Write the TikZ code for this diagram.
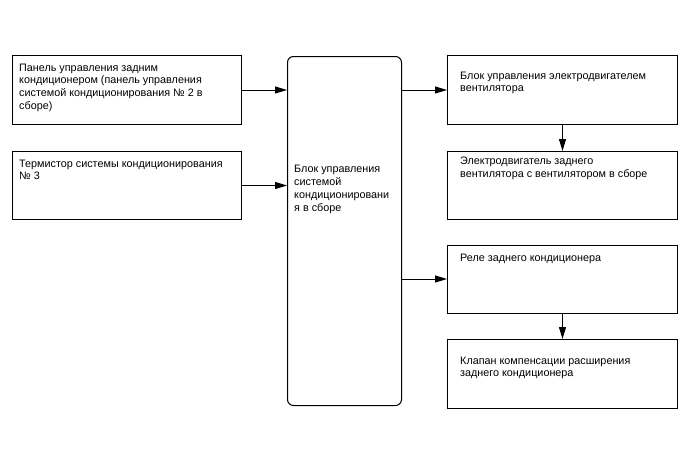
\documentclass[tikz,border=0pt]{standalone}
\usepackage{fontspec}
\setmainfont{Liberation Sans}
\usetikzlibrary{arrows.meta}
\newcommand{\lines}[1]{\begin{tabular}[t]{@{}l@{}}#1\end{tabular}}
\begin{document}
\begin{tikzpicture}[x=1pt,y=-1pt,
  box/.style={draw,line width=1pt,rectangle,inner sep=0pt,anchor=north west},
  txt/.style={anchor=base west,inner sep=0pt,font=\fontsize{10.8}{12.8}\selectfont},
  arr/.style={line width=1pt,-{Triangle[length=12pt,width=7pt]}}]
\useasboundingbox (0,0) rectangle (688,463);
\node[box,minimum width=229pt,minimum height=69pt] (A) at (12,55) {};
\node[box,minimum width=229pt,minimum height=68pt] (B) at (12,151) {};
\node[box,rounded corners=6pt,minimum width=114pt,minimum height=349pt] (C) at (287,56) {};
\node[box,minimum width=230pt,minimum height=69pt] (R1) at (447,55) {};
\node[box,minimum width=230pt,minimum height=68pt] (R2) at (447,151) {};
\node[box,minimum width=230pt,minimum height=68pt] (R3) at (447,244.5) {};
\node[box,minimum width=230pt,minimum height=69pt] (R4) at (447,339) {};
\node[txt] (tA) at (19,71) {\lines{Панель управления задним\\кондиционером (панель управления\\системой кондиционирования № 2 в\\сборе)}};
\node[txt] (tB) at (19,167) {\lines{Термистор системы кондиционирования\\№ 3}};
\node[txt,font=\fontsize{10.8}{13.3}\selectfont] (tC) at (294,172) {\lines{Блок управления\\системой\\кондиционировани\\я в сборе}};
\node[txt] (tR1) at (460,79) {\lines{Блок управления электродвигателем\\вентилятора}};
\node[txt] (tR2) at (460,164.5) {\lines{Электродвигатель заднего\\вентилятора с вентилятором в сборе}};
\node[txt] (tR3) at (460,261) {\lines{Реле заднего кондиционера}};
\node[txt] (tR4) at (460,364) {\lines{Клапан компенсации расширения\\заднего кондиционера}};
\draw[arr] (A.east) -- (C.west |- A.east);
\draw[arr] (B.east) -- (C.west |- B.east);
\draw[arr] (C.east |- R1.west) -- (R1.west);
\draw[arr] (C.east |- R3.west) -- (R3.west);
\draw[arr] (R1.south) -- (R2.north);
\draw[arr] (R3.south) -- (R4.north);
\end{tikzpicture}
\end{document}
